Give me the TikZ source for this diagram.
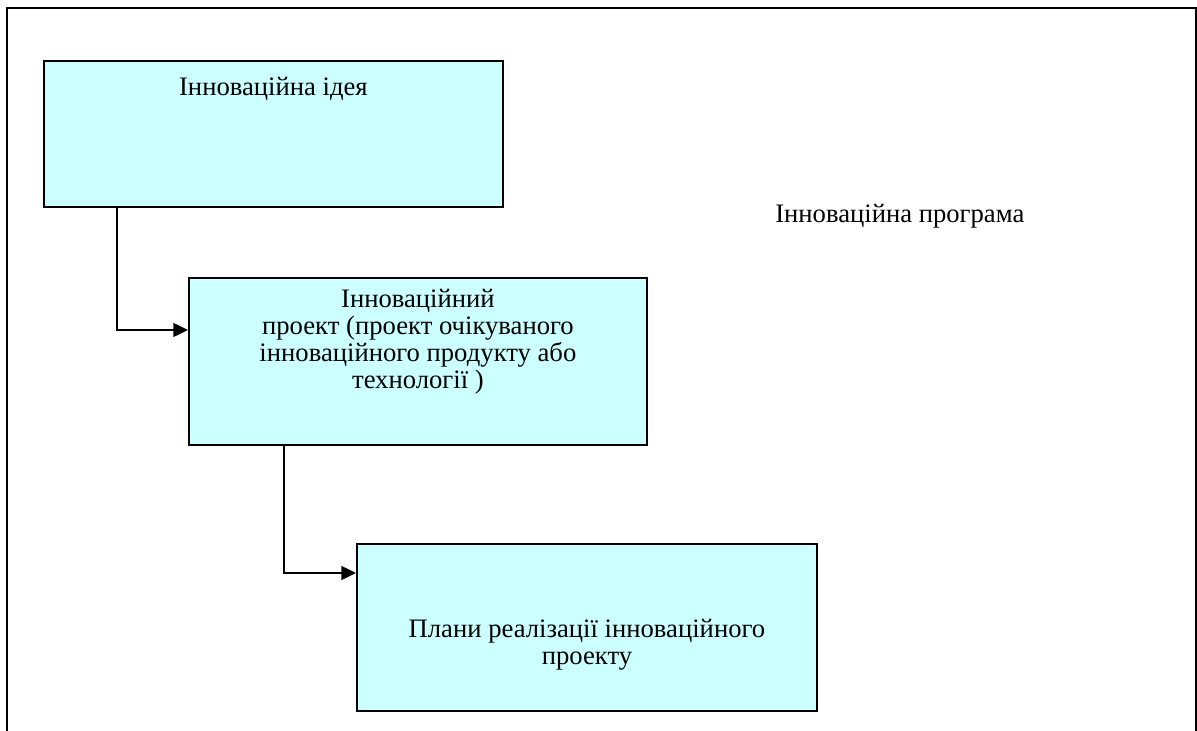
\documentclass[tikz,border=0pt]{standalone}
\usepackage{fontspec}
\setmainfont{Liberation Serif}
\usetikzlibrary{arrows.meta}

\definecolor{boxfill}{RGB}{204,255,255}

\tikzset{
  box/.style={draw, line width=1.4pt, fill=boxfill, anchor=north west, inner sep=0pt},
  txt/.style={inner sep=0pt, align=center, font=\fontsize{20}{20.3}\selectfont},
  conn/.style={line width=1pt, -{Triangle[length=11pt,width=10.5pt]}}
}

\begin{document}
\begin{tikzpicture}[x=0.75pt,y=-0.75pt]
  \useasboundingbox (0,0) rectangle (1197,731);
  % frame
  \draw[line width=1.5pt] (7,731) -- (7,8) -- (1196,8) -- (1196,731);
  % label
  \node[txt, anchor=north west] (prog) at (775,204) {Інноваційна програма};
  % boxes
  \node[box, minimum width=344.25pt, minimum height=109.5pt] (idea) at (43,60) {};
  \node[box, minimum width=343.5pt, minimum height=125.25pt] (project) at (188,277) {};
  \node[box, minimum width=345pt, minimum height=125.25pt] (plans) at (356,543) {};
  % box texts
  \node[txt, anchor=north] (ideatxt) at ([yshift=-12.75pt]idea.north) {Інноваційна ідея};
  \node[txt, anchor=north] (projecttxt) at ([yshift=-9pt]project.north)
    {Інноваційний\\проект (проект очікуваного\\інноваційного продукту або\\технології )};
  \node[txt, anchor=north] (planstxt) at ([yshift=-57pt]plans.north)
    {Плани реалізації інноваційного\\проекту};
  % arrows
  \draw[conn] ([xshift=55.5pt]idea.south west) |- ([yshift=-39.75pt]project.north west);
  \draw[conn] ([xshift=72pt]project.south west) |- ([yshift=-22.5pt]plans.north west);
\end{tikzpicture}
\end{document}
